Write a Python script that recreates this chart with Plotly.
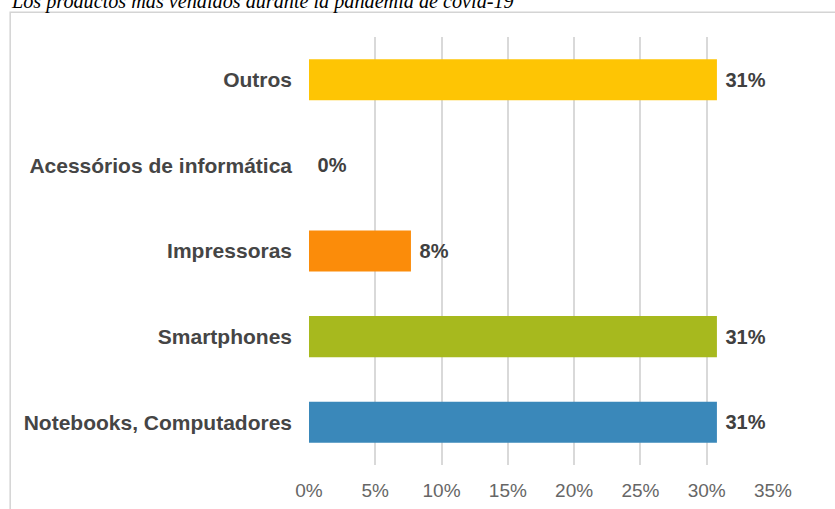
import plotly.graph_objects as go

# data (4/13, 0, 1/13 ... of the answers)
categorias = ["Notebooks, Computadores", "Smartphones", "Impressoras",
              "Acessórios de informática", "Outros"]
porcentagens = [30.77, 30.77, 7.69, 0.0, 30.77]
cores = ["#3A88BA", "#A7B91E", "#FB8C0A", "#EDEDED", "#FEC504"]
ticks_x = [0, 5, 10, 15, 20, 25, 30, 35]

titulo = "Los productos más vendidos durante la pandemia de covid-19"

fig = go.Figure(go.Bar(
    x=porcentagens,
    y=categorias,
    orientation="h",
    marker={"color": cores, "line": {"width": 0}},
    text=["\u00a0{:.0f}%".format(v) for v in porcentagens],
    textposition="outside",
    cliponaxis=False,
    textfont={"family": "Liberation Sans, Arial", "size": 20, "color": "#404040",
              "weight": "bold"},
    hoverinfo="skip",
))

# frame around the chart (it runs off the right and bottom of the picture)
fig.add_shape(type="rect", xref="paper", yref="paper",
              x0=-0.644, x1=1.3, y0=-0.3, y1=1.058,
              line={"color": "#D4D4D4", "width": 1.5}, layer="below")

fig.add_annotation(text=titulo, xref="paper", yref="paper",
                   x=-0.646, y=1.083, xanchor="left", yanchor="middle",
                   showarrow=False,
                   font={"family": "Liberation Serif, Times New Roman", "size": 20.2,
                         "color": "#000000", "style": "italic"})

fig.update_layout(
    width=835,
    height=509,
    margin={"l": 309, "r": 62, "t": 37, "b": 44},
    paper_bgcolor="white",
    plot_bgcolor="white",
    showlegend=False,
    bargap=0.52,
    xaxis={
        "range": [0, 35],
        "tickmode": "array",
        "tickvals": ticks_x,
        "ticktext": ["{}%".format(t) for t in ticks_x],
        "showgrid": True,
        "gridcolor": "#D9D9D9",
        "gridwidth": 1.5,
        "zeroline": False,
        "showline": False,
        "ticks": "",
        "automargin": False,
        "ticklabelstandoff": 12,
        "tickfont": {"family": "Liberation Sans, Arial", "size": 19, "color": "#666666"},
    },
    yaxis={
        "showgrid": False,
        "zeroline": False,
        "showline": False,
        "ticks": "",
        "automargin": False,
        "ticklabelstandoff": 16,
        "tickfont": {"family": "Liberation Sans, Arial", "size": 21, "color": "#454545",
                     "weight": "bold"},
    },
)

# the page is photographed from its top-left corner, so drop the body margin
fig.write_html("out.html", config={"displayModeBar": False},
               post_script="document.body.style.margin='0';")
